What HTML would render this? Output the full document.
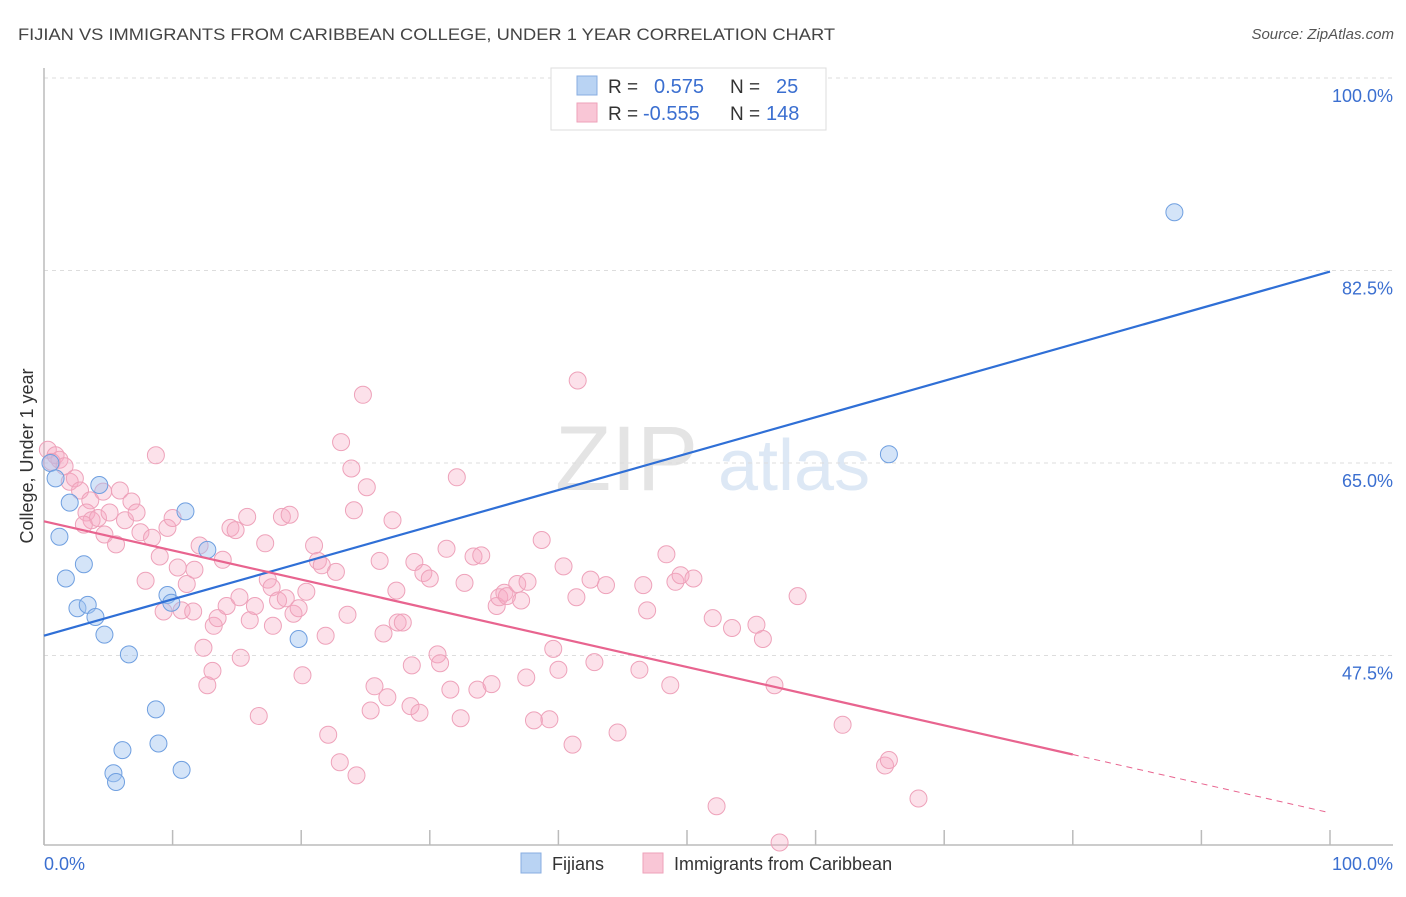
<!DOCTYPE html>
<html><head><meta charset="utf-8"><style>
body{margin:0;background:#fff;font-family:"Liberation Sans",sans-serif;}
svg text{font-family:"Liberation Sans",sans-serif;}
</style></head><body>
<svg id="chart" width="1406" height="892" xmlns="http://www.w3.org/2000/svg">
<text x="18" y="40" font-size="17" fill="#444" textLength="817" lengthAdjust="spacingAndGlyphs">FIJIAN VS IMMIGRANTS FROM CARIBBEAN COLLEGE, UNDER 1 YEAR CORRELATION CHART</text>
<text x="1394" y="39" font-size="15" fill="#555" text-anchor="end" font-style="italic">Source: ZipAtlas.com</text>
<text x="555" y="490" font-size="92" fill="#e4e4e4" font-family="Liberation Serif">ZIP</text>
<text x="718" y="490" font-size="72" fill="#dde8f5">atlas</text>
<g id="grid"></g>
<g id="axes"></g>
<g id="marks"></g>
<text transform="translate(33,456) rotate(-90)" font-size="18" fill="#333" text-anchor="middle">College, Under 1 year</text>
<text x="44" y="870" font-size="18" fill="#3b6fd0">0.0%</text>
<text x="1393" y="870" font-size="18" fill="#3b6fd0" text-anchor="end">100.0%</text>
<g>
<rect x="551" y="68" width="275" height="62" fill="#fff" stroke="#ddd"/>
<rect x="577" y="76" width="20" height="19" fill="#b9d3f3" stroke="#88aee0"/>
<rect x="577" y="103" width="20" height="19" fill="#f9c6d6" stroke="#eea2ba"/>
<text x="608" y="93" font-size="19" fill="#333">R =</text>
<text x="654" y="93" font-size="20" fill="#3b6fd0">0.575</text>
<text x="730" y="93" font-size="19" fill="#333">N =</text>
<text x="776" y="93" font-size="20" fill="#3b6fd0">25</text>
<text x="608" y="120" font-size="19" fill="#333">R =</text>
<text x="643" y="120" font-size="20" fill="#3b6fd0">-0.555</text>
<text x="730" y="120" font-size="19" fill="#333">N =</text>
<text x="766" y="120" font-size="20" fill="#3b6fd0">148</text>
</g>
<g>
<rect x="521" y="853" width="20" height="20" fill="#b9d3f3" stroke="#88aee0"/>
<text x="552" y="870" font-size="18" fill="#333">Fijians</text>
<rect x="643" y="853" width="20" height="20" fill="#f9c6d6" stroke="#eea2ba"/>
<text x="674" y="870" font-size="18" fill="#333">Immigrants from Caribbean</text>
</g>
</svg>
<script>
const yTicks=[100,82.5,65,47.5];
const yTickLabels=["100.0%","82.5%","65.0%","47.5%"];
const xTicks=[0,10,20,30,40,50,60,70,80,90,100];
const blueX=[0.5,0.9,1.2,2.0,1.7,3.1,2.6,3.4,4.0,4.3,4.7,6.6,8.7,8.9,6.1,5.4,5.6,10.7,11.0,9.6,9.9,12.7,19.8,65.7,87.9];
const blueY=[65.0,63.6,58.3,61.4,54.5,55.8,51.8,52.1,51.0,63.0,49.4,47.6,42.6,39.5,38.9,36.8,36.0,37.1,60.6,53.0,52.3,57.1,49.0,65.8,87.8];
const pinkX=[0.3,0.9,1.2,0.6,1.6,2.0,2.4,2.8,3.6,4.6,3.3,3.7,4.2,3.1,5.1,4.7,5.6,5.9,6.3,6.8,7.2,7.5,8.4,8.7,7.9,9.0,9.3,9.6,10.0,10.4,10.7,11.1,11.6,11.7,12.1,12.4,12.7,13.1,13.2,13.5,13.9,14.2,14.5,14.9,15.2,15.3,15.8,16.0,16.4,16.7,17.2,17.4,17.7,17.8,18.2,18.5,18.8,19.1,19.4,19.8,20.1,20.4,21.0,21.3,21.6,21.9,22.1,22.7,23.1,23.0,23.6,23.9,24.1,24.3,24.8,25.1,25.4,25.7,26.1,26.4,26.7,27.1,27.4,27.5,27.9,28.5,28.6,28.8,29.2,29.5,30.0,30.6,30.8,31.3,31.6,32.1,32.4,32.7,33.4,33.7,34.0,34.8,35.2,35.4,35.8,36.0,36.8,37.1,37.6,37.5,38.1,38.7,39.3,39.6,40.0,40.4,41.1,41.4,41.5,42.5,42.8,43.7,44.6,46.3,46.6,46.9,48.4,48.7,49.1,49.5,50.5,52.0,52.3,53.5,55.4,55.9,56.8,57.2,58.6,62.1,65.4,65.7,68.0];
const pinkY=[66.2,65.7,65.3,65.1,64.7,63.3,63.6,62.5,61.6,62.4,60.5,59.8,60.0,59.4,60.5,58.5,57.6,62.5,59.8,61.5,60.5,58.7,58.2,65.7,54.3,56.5,51.5,59.1,60.0,55.5,51.6,54.0,51.5,55.3,57.5,48.2,44.8,46.1,50.2,50.9,56.2,52.0,59.1,58.9,52.8,47.3,60.1,50.7,52.0,42.0,57.7,54.4,53.7,50.2,52.5,60.1,52.7,60.3,51.3,51.8,45.7,53.3,57.5,56.1,55.7,49.3,40.3,55.1,66.9,37.8,51.2,64.5,60.7,36.6,71.2,62.8,42.5,44.7,56.1,49.5,43.7,59.8,53.4,50.5,50.5,42.9,46.6,56.0,42.3,55.0,54.5,47.6,46.8,57.2,44.4,63.7,41.8,54.1,56.5,44.4,56.6,44.9,52.0,52.8,53.2,52.9,54.0,52.5,54.2,45.5,41.6,58.0,41.7,48.1,46.2,55.6,39.4,52.8,72.5,54.4,46.9,53.9,40.5,46.2,53.9,51.6,56.7,44.8,54.2,54.8,54.5,50.9,33.8,50.0,50.3,49.0,44.8,30.5,52.9,41.2,37.5,38.0,34.5];
const blueLine=[49.3,82.4];
const pinkLine=[59.7,38.5,33.2];
const NS="http://www.w3.org/2000/svg";
function sx(v){return 44+v*12.86;}
function sy(v){return 463-(v-65)*11;}
function mk(tag,attrs,parent){const e=document.createElementNS(NS,tag);for(const k in attrs)e.setAttribute(k,attrs[k]);parent.appendChild(e);return e;}
const grid=document.getElementById('grid'),axes=document.getElementById('axes'),marks=document.getElementById('marks');
yTicks.forEach((t,i)=>{
 const l=mk('line',{x1:44,x2:1393,y1:sy(t),y2:sy(t),stroke:'#ddd','stroke-dasharray':'4,4'},grid);
 
 
 const tx=mk('text',{x:1393,y:sy(t)+24,'font-size':18,fill:'#3b6fd0','text-anchor':'end'},grid);
 tx.textContent=yTickLabels[i];
 
 
});
const ya=mk('line',{x1:44,x2:44,y1:68,y2:845,stroke:'#bbb','stroke-width':1.5},axes);


const xa=mk('line',{x1:44,x2:1393,y1:845,y2:845,stroke:'#bbb','stroke-width':1.5},axes);


xTicks.forEach(t=>{
 const l=mk('line',{x1:sx(t),x2:sx(t),y1:830,y2:845,stroke:'#bbb','stroke-width':1.5},axes);
 
 
});
pinkX.forEach((x,i)=>{
 const c=mk('circle',{cx:sx(x),cy:sy(pinkY[i]),r:8.5,fill:'rgba(246,170,195,0.35)',stroke:'#eea2ba','stroke-width':1},marks);
 
 
});
blueX.forEach((x,i)=>{
 const c=mk('circle',{cx:sx(x),cy:sy(blueY[i]),r:8.5,fill:'rgba(160,195,240,0.45)',stroke:'#6f9fe0','stroke-width':1},marks);
 
 
});
const bl=mk('line',{x1:sx(0),y1:sy(blueLine[0]),x2:sx(100),y2:sy(blueLine[1]),stroke:'#2f6fd6','stroke-width':2.2},marks);


const pl=mk('line',{x1:sx(0),y1:sy(pinkLine[0]),x2:sx(80),y2:sy(pinkLine[1]),stroke:'#e8648f','stroke-width':2.2},marks);


const pd=mk('line',{x1:sx(80),y1:sy(pinkLine[1]),x2:sx(100),y2:sy(pinkLine[2]),stroke:'#e8648f','stroke-width':1,'stroke-dasharray':'6,5'},marks);


</script>
</body></html>
